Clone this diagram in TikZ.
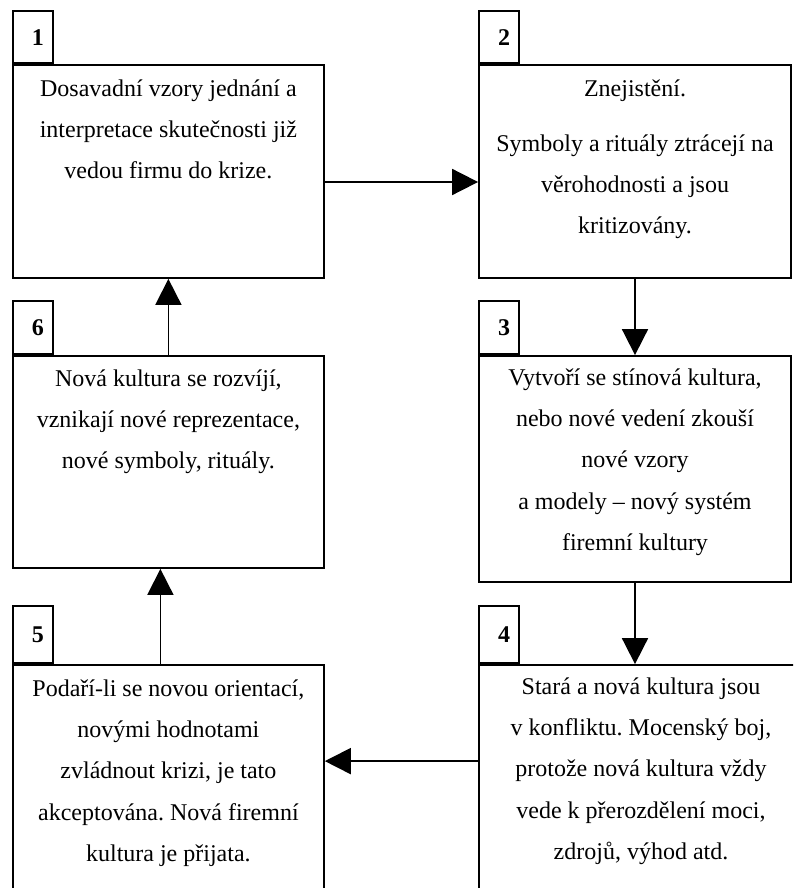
\documentclass[tikz,border=0pt]{standalone}
\usepackage{fontspec}
\setmainfont{Liberation Serif}
\usetikzlibrary{arrows.meta, positioning}
\frenchspacing

\begin{document}
\begin{tikzpicture}[x=1pt, y=-1pt,
  mainbox/.style={draw, line width=1.8pt, minimum width=311pt, inner sep=0pt},
  numbox/.style={draw, line width=1.8pt, text width=22pt, align=right, inner xsep=9pt, inner ysep=0pt, minimum height=52pt, anchor=south west, font=\fontsize{24}{29}\selectfont\bfseries},
  boxtext/.style={align=center, inner sep=0pt, font=\fontsize{24}{41.3}\selectfont},
  arrow/.style={-{Triangle[length=26pt, width=26pt]}, line width=1.8pt}
]
  \clip (0,0) rectangle (793,888);

  % Step 1
  \node[mainbox, minimum height=213pt] (b1) at (168.4, 171.5) {};
  \node[numbox] (n1) at (b1.north west) {1};
  \node[boxtext, below=3pt of b1.north] (t1) {\strut Dosavadní vzory jednání a\\interpretace skutečnosti již\\vedou firmu do krize.};

  % Step 2
  \node[mainbox, minimum width=312pt, minimum height=213pt] (b2) at (635, 171.5) {};
  \node[numbox] (n2) at (b2.north west) {2};
  \node[boxtext, below=3pt of b2.north] (t2) {\strut Znejistění.\\[13.7pt]Symboly a rituály ztrácejí na\\věrohodnosti a jsou\\kritizovány.};

  % Step 3
  \node[mainbox, minimum width=312pt, minimum height=226pt] (b3) at (635, 469) {};
  \node[numbox, minimum height=53pt] (n3) at (b3.north west) {3};
  \node[boxtext, below=1pt of b3.north] (t3) {\strut Vytvoří se stínová kultura,\\nebo nové vedení zkouší\\nové vzory\\a modely – nový systém\\firemní kultury};

  % Step 4
  \node[mainbox, minimum width=324pt, minimum height=265pt] (b4) at (641, 797.5) {};
  \node[numbox, minimum height=57pt] (n4) at (b4.north west) {4};
  \node[boxtext, below=1pt of b4.north] (t4) {\strut Stará a nová kultura jsou\\v konfliktu. Mocenský boj,\\protože nová kultura vždy\\vede k přerozdělení moci,\\zdrojů, výhod atd.};

  % Step 5
  \node[mainbox, minimum height=265pt] (b5) at (168.4, 797.5) {};
  \node[numbox, minimum height=57pt] (n5) at (b5.north west) {5};
  \node[boxtext, below=3pt of b5.north] (t5) {\strut Podaří-li se novou orientací,\\novými hodnotami\\zvládnout krizi, je tato\\akceptována. Nová firemní\\kultura je přijata.};

  % Step 6
  \node[mainbox, minimum height=212pt] (b6) at (168.4, 462) {};
  \node[numbox, minimum height=53pt] (n6) at (b6.north west) {6};
  \node[boxtext, below=2pt of b6.north] (t6) {\strut Nová kultura se rozvíjí,\\vznikají nové reprezentace,\\nové symboly, rituály.};

  % Cycle
  \draw[arrow] ([yshift=-10.5pt]b1.east) -- ([yshift=-10.5pt]b2.west);
  \draw[arrow] (b2.south) -- (b3.north);
  \draw[arrow] (b3.south) -- (b3.south |- b4.north);
  \draw[arrow] ([yshift=-97pt]b4.north west) -- ([yshift=-97pt]b5.north east);
  \draw[arrow] ([xshift=-8pt]b5.north) -- ([xshift=-8pt]b6.south);
  \draw[arrow] (b6.north) -- (b1.south);
\end{tikzpicture}
\end{document}
